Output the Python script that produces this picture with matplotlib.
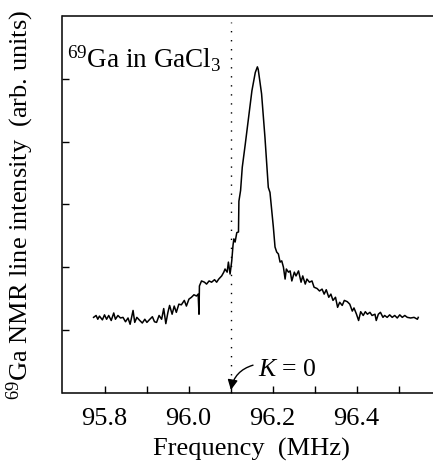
import numpy as np
import matplotlib
matplotlib.use("Agg")
import matplotlib.pyplot as plt

plt.rcParams["font.family"] = ["Liberation Serif", "DejaVu Serif"]
plt.rcParams["mathtext.fontset"] = "custom"
plt.rcParams["mathtext.rm"] = "Liberation Serif"
plt.rcParams["mathtext.it"] = "Liberation Serif:italic"

# spectrum: frequency (MHz), intensity (arb. units)
freq = [95.774, 95.780, 95.784, 95.788, 95.795, 95.800, 95.805, 95.810, 95.816, 95.822,
        95.826, 95.832, 95.838, 95.844, 95.850, 95.856, 95.861, 95.868, 95.872, 95.877,
        95.884, 95.890, 95.896, 95.901, 95.908, 95.914, 95.919, 95.924, 95.930, 95.936,
        95.941, 95.946, 95.951, 95.955, 95.961, 95.966, 95.971, 95.977, 95.983, 95.990,
        95.995, 96.001, 96.007, 96.013, 96.019, 96.023, 96.025, 96.026, 96.031, 96.038,
        96.043, 96.049, 96.055, 96.062, 96.067, 96.072, 96.079, 96.084, 96.087, 96.092,
        96.095, 96.099, 96.103, 96.106, 96.108, 96.111, 96.115, 96.119, 96.120, 96.124,
        96.128, 96.135, 96.143, 96.151, 96.159, 96.164, 96.166, 96.174, 96.182, 96.190,
        96.194, 96.202, 96.206, 96.210, 96.214, 96.218, 96.222, 96.226, 96.230, 96.233,
        96.238, 96.242, 96.246, 96.252, 96.256, 96.262, 96.268, 96.272, 96.278, 96.282,
        96.288, 96.294, 96.299, 96.306, 96.312, 96.318, 96.323, 96.328, 96.334, 96.339,
        96.344, 96.350, 96.355, 96.360, 96.366, 96.371, 96.378, 96.384, 96.390, 96.394,
        96.400, 96.405, 96.410, 96.416, 96.421, 96.426, 96.432, 96.437, 96.444, 96.447,
        96.452, 96.457, 96.463, 96.467, 96.473, 96.479, 96.485, 96.491, 96.497, 96.503,
        96.509, 96.515, 96.521, 96.529, 96.537, 96.545, 96.547]
intensity = [1.20, 1.23, 1.17, 1.22, 1.16, 1.24, 1.17, 1.23, 1.15, 1.27,
             1.17, 1.23, 1.19, 1.20, 1.13, 1.19, 1.09, 1.31, 1.12, 1.20,
             1.15, 1.11, 1.17, 1.12, 1.17, 1.21, 1.13, 1.12, 1.23, 1.17,
             1.34, 1.10, 1.28, 1.39, 1.25, 1.38, 1.28, 1.41, 1.40, 1.47,
             1.38, 1.49, 1.52, 1.56, 1.54, 1.57, 1.25, 1.70, 1.78, 1.76,
             1.73, 1.78, 1.76, 1.80, 1.76, 1.81, 1.86, 1.92, 1.97, 1.92,
             2.08, 1.89, 2.10, 2.35, 2.45, 2.40, 2.55, 2.56, 3.05, 3.22,
             3.59, 3.95, 4.38, 4.81, 5.10, 5.19, 5.15, 4.76, 4.07, 3.27,
             3.19, 2.64, 2.32, 2.24, 2.21, 2.08, 2.10, 2.00, 1.81, 1.97,
             1.92, 1.94, 1.78, 1.92, 1.86, 1.94, 1.76, 1.86, 1.73, 1.81,
             1.76, 1.78, 1.68, 1.66, 1.62, 1.65, 1.57, 1.64, 1.52, 1.57,
             1.47, 1.52, 1.36, 1.44, 1.39, 1.47, 1.45, 1.41, 1.30, 1.35,
             1.25, 1.15, 1.29, 1.23, 1.29, 1.25, 1.28, 1.23, 1.25, 1.15,
             1.25, 1.28, 1.20, 1.23, 1.20, 1.24, 1.20, 1.23, 1.19, 1.24,
             1.20, 1.23, 1.20, 1.19, 1.20, 1.17, 1.20]

k0 = 96.1
xticks = [95.8, 96.0, 96.2, 96.4]
xtick_labels = ["95.8", "96.0", "96.2", "96.4"]
minor_xticks = [95.9, 96.1, 96.3, 96.5]
yticks = [1, 2, 3, 4, 5]

fig = plt.figure(figsize=(4.33, 4.64), dpi=100)
ax = fig.add_axes([62.5 / 433, 70.3 / 464, 378 / 433, 376.7 / 464])

ax.plot(freq, intensity, color="black", lw=1.1)
ax.plot([k0, k0], [0, 5.9], color="black", lw=1.0, linestyle=(0, (1, 5.5)))

ax.set_xlim(95.7, 96.6)
ax.set_ylim(0, 6)
ax.set_xticks(xticks)
ax.set_xticklabels(xtick_labels)
ax.set_xticks(minor_xticks, minor=True)
ax.set_yticks(yticks)
ax.set_yticklabels([])
ax.tick_params(which="both", direction="in", length=5, width=1, labelsize=19, pad=10)
ax.spines["right"].set_visible(False)
for s in ["left", "bottom", "top"]:
    ax.spines[s].set_linewidth(1.1)

ax.set_xlabel("Frequency  (MHz)", fontsize=19, labelpad=6)
ax.set_ylabel("$^{69}$Ga NMR line intensity  (arb. units)", fontsize=19, labelpad=9)

ax.text(95.711, 5.2, "$^{69}$Ga in GaCl$_3$", fontsize=19.5, ha="left", va="baseline")
ax.text(96.166, 0.38, "$K$ = 0", fontsize=18.5, ha="left", va="center")
ax.annotate("", xy=(k0, 0.0), xytext=(96.16, 0.45),
            arrowprops=dict(arrowstyle="-|>", color="black", lw=1.0,
                            connectionstyle="arc3,rad=0.35", mutation_scale=15))

fig.savefig("out.png", dpi=100)
